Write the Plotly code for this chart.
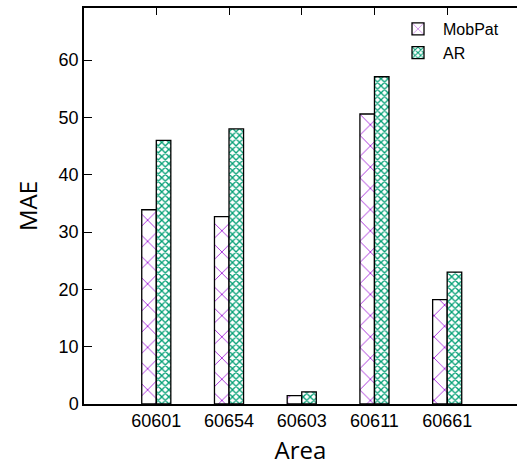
import plotly.graph_objects as go

areas = ["60601", "60654", "60603", "60611", "60661"]
mobpat = [33.9, 32.7, 1.45, 50.6, 18.2]
ar = [46.0, 48.0, 2.1, 57.1, 23.0]
y_ticks = [0, 10, 20, 30, 40, 50, 60]

fig = go.Figure()
fig.add_trace(go.Bar(
    x=areas, y=mobpat, name="MobPat", width=0.2, offset=-0.2,
    marker=dict(color="white", line=dict(color="black", width=1.3),
                pattern=dict(shape="x", fgcolor="#9400d3", bgcolor="white",
                             size=15, solidity=0.1, fillmode="overlay", fgopacity=1)),
))
fig.add_trace(go.Bar(
    x=areas, y=ar, name="AR", width=0.2, offset=0.0,
    marker=dict(color="white", line=dict(color="black", width=1.3),
                pattern=dict(shape="x", fgcolor="#009e73", bgcolor="white",
                             size=5, solidity=0.45, fillmode="overlay", fgopacity=1)),
))

tick_font = dict(family="Liberation Sans, Arial, sans-serif", size=18, color="black")
title_font = dict(family="Open Sans, Lato, sans-serif", size=24, color="black")

fig.update_layout(
    width=517, height=469,
    margin=dict(l=84, r=0, t=8, b=65, autoexpand=False),
    paper_bgcolor="white", plot_bgcolor="white",
    barmode="overlay",
    showlegend=True,
    legend=dict(x=0.97, y=0.99, xanchor="right", yanchor="top",
                bgcolor="rgba(0,0,0,0)",
                font=dict(family="Liberation Sans, Arial, sans-serif", size=16, color="black"),
                tracegroupgap=0, itemwidth=40),
    xaxis=dict(
        type="category", categoryorder="array", categoryarray=areas,
        range=[-0.994, 4.96], automargin=False,
        showline=True, linecolor="black", linewidth=1.5, mirror="allticks",
        ticks="inside", ticklen=7, tickcolor="black",
        showgrid=False, zeroline=False,
        tickfont=tick_font,
        title=dict(text="Area", font=title_font, standoff=12),
    ),
    yaxis=dict(
        range=[0, 69.1], automargin=False,
        tickvals=y_ticks,
        showline=True, linecolor="black", linewidth=1.5,
        ticks="inside", ticklen=8, tickcolor="black",
        showgrid=False, zeroline=False,
        tickfont=tick_font,
        title=dict(text="MAE", font=title_font, standoff=14),
    ),
)

fig.write_html(
    "out.html",
    config={"displayModeBar": False},
    post_script="document.body.style.margin='0';document.body.style.overflow='hidden';",
)
